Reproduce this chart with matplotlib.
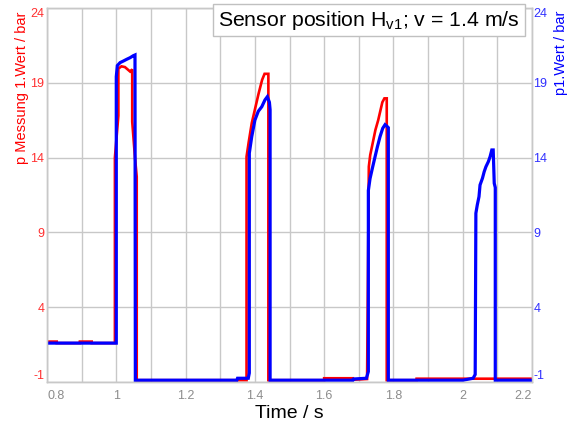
import matplotlib
matplotlib.use("Agg")
import matplotlib.pyplot as plt

plt.rcParams["font.family"] = ["Liberation Sans", "DejaVu Sans"]
plt.rcParams["mathtext.fontset"] = "custom"
plt.rcParams["mathtext.rm"] = "Liberation Sans"
plt.rcParams["mathtext.it"] = "Liberation Sans:italic"

# p Messung 1.Wert (red, left axis)
red_t = [0.800, 0.828, 0.828, 0.895, 0.895, 0.929, 0.929, 0.996, 0.996, 1.006, 1.006,
         1.015, 1.025, 1.035, 1.040, 1.046, 1.046, 1.054, 1.059, 1.059,
         1.376, 1.376, 1.382, 1.391, 1.400, 1.411, 1.421, 1.428, 1.439, 1.439,
         1.600, 1.600, 1.683, 1.683, 1.724, 1.729, 1.733, 1.740, 1.748, 1.756,
         1.763, 1.768, 1.774, 1.7807, 1.7807, 1.867, 1.867, 2.200]
red_p = [1.70, 1.70, 1.60, 1.60, 1.70, 1.70, 1.60, 1.60, 14.00, 16.80, 19.95,
         20.10, 20.05, 19.85, 19.75, 19.90, 16.40, 14.00, 12.72, -0.88,
         -0.88, 14.06, 15.00, 16.30, 17.20, 18.30, 19.20, 19.60, 19.60, -0.88,
         -0.88, -0.75, -0.75, -0.85, -0.80, 13.40, 14.17, 14.95, 15.85, 16.50,
         17.20, 17.70, 17.96, 17.96, -0.88, -0.88, -0.78, -0.78]

# p1.Wert (blue, right axis)
blue_t = [0.800, 1.000, 1.000, 1.003, 1.011, 1.020, 1.030, 1.040, 1.049, 1.054, 1.055,
          1.348, 1.350, 1.381, 1.384, 1.384, 1.391, 1.400, 1.410, 1.420, 1.429,
          1.436, 1.442, 1.444, 1.444, 1.683, 1.685, 1.722, 1.7276, 1.7276, 1.7325,
          1.7403, 1.747, 1.7535, 1.7613, 1.7691, 1.7758, 1.7824, 1.7853, 1.7853,
          2.000, 2.030, 2.036, 2.038, 2.042, 2.047, 2.050, 2.057, 2.062, 2.067,
          2.074, 2.079, 2.084, 2.088, 2.091, 2.094, 2.094, 2.200]
blue_p = [1.60, 1.60, 19.41, 20.15, 20.35, 20.45, 20.57, 20.68, 20.81, 20.86, -0.88,
          -0.88, -0.75, -0.75, -0.40, 14.30, 15.40, 16.50, 17.10, 17.40, 17.85,
          18.07, 17.70, 17.20, -0.88, -0.88, -0.80, -0.75, -0.30, 11.80, 12.60,
          13.40, 14.06, 14.70, 15.40, 15.96, 16.20, 16.07, 16.00, -0.88,
          -0.88, -0.75, -0.50, 10.28, 10.83, 11.39, 12.17, 12.62, 13.06, 13.39,
          13.73, 14.06, 14.51, 14.51, 12.28, 12.00, -0.88, -0.88]

xticks = [0.8, 1.0, 1.2, 1.4, 1.6, 1.8, 2.0, 2.2]
xtick_labels = ["0.8", "1", "1.2", "1.4", "1.6", "1.8", "2", "2.2"]
yticks = [-1, 4, 9, 14, 19, 24]

fig = plt.figure(figsize=(5.68, 4.23), dpi=100)
ax = fig.add_axes([47 / 568, 1 - 382 / 423, 485 / 568, 374 / 423])
ax2 = ax.twinx()

ax.plot(red_t, red_p, color="#ff0000", lw=1.9, solid_joinstyle="miter")
ax2.plot(blue_t, blue_p, color="#0000ff", lw=2.3, solid_joinstyle="miter")

for a in (ax, ax2):
    a.set_xlim(0.8, 2.2)
    a.set_ylim(-1, 24)
    a.set_yticks(yticks)
    a.set_yticklabels([str(v) for v in yticks])
    for s in a.spines.values():
        s.set_color("#c8c8c8")
        s.set_linewidth(1.0)

ax.set_xticks(xticks)
ax.set_xticks([0.9, 1.1, 1.3, 1.5, 1.7, 1.9, 2.1], minor=True)
ax.set_xticklabels(xtick_labels)
ax.grid(True, which="both", axis="x", color="#c8c8c8", lw=1.0)
ax.grid(True, axis="y", color="#c8c8c8", lw=1.0)
ax.tick_params(axis="x", which="both", length=0, pad=6, labelsize=9, labelcolor="#8c8c8c")
ax.tick_params(axis="y", length=0, pad=2, labelsize=9, labelcolor="#ff3030")
ax2.tick_params(axis="y", length=0, pad=1, labelsize=9, labelcolor="#3030ff")

xl = ax.get_xticklabels()
xl[0].set_horizontalalignment("left")
xl[-1].set_horizontalalignment("right")
for a in (ax, ax2):
    yl = a.get_yticklabels()
    yl[0].set_verticalalignment("bottom")
    yl[-1].set_verticalalignment("top")

ax.set_xlabel("Time / s", fontsize=14, color="#000000", labelpad=2)
fig.text(22 / 568, 1 - 88 / 423, "p Messung 1.Wert / bar", rotation=90,
         ha="center", va="center", fontsize=10.5, color="#ff0000")
fig.text(561 / 568, 1 - 53 / 423, "p1.Wert / bar", rotation=90,
         ha="center", va="center", fontsize=10.5, color="#0000ff")

fig.text(369 / 568, 1 - 20 / 423, "Sensor position H$_{\\mathrm{v1}}$; v = 1.4 m/s",
         ha="center", va="center", fontsize=15.3, color="#000000",
         bbox=dict(boxstyle="square,pad=0.22", fc="white", ec="#c0c0c0", lw=1.0),
         zorder=10)

fig.savefig("out.png", dpi=100)
